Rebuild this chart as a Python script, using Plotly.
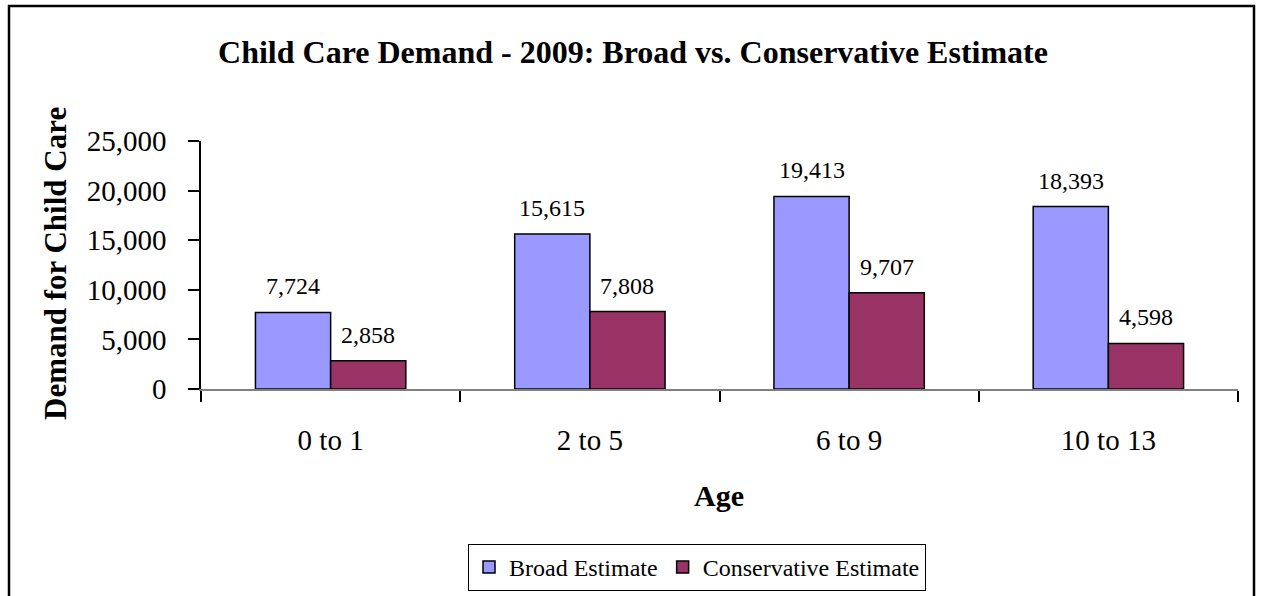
import plotly.graph_objects as go

# Child care demand by age group, 2009
ages = ["0 to 1", "2 to 5", "6 to 9", "10 to 13"]
broad = [7724, 15615, 19413, 18393]
conservative = [2858, 7808, 9707, 4598]
series_names = ["Broad Estimate", "Conservative Estimate"]
y_ticks = [0, 5000, 10000, 15000, 20000, 25000]

W, H = 1261, 596
L, R, T, B = 201, 23, 141, 207
pw, ph = W - L - R, H - T - B

FONT = "Liberation Serif"
BROAD_C = "#9999FF"
CONS_C = "#993366"

fig = go.Figure()
fig.add_trace(go.Bar(x=ages, y=broad, name=series_names[0],
                     marker=dict(color=BROAD_C, line=dict(color="black", width=1.5))))
fig.add_trace(go.Bar(x=ages, y=conservative, name=series_names[1],
                     marker=dict(color=CONS_C, line=dict(color="black", width=1.5))))

# value labels above each bar
bar_px = pw / len(ages) * (1 - 0.42) / 2
annotations = []
for vals, sh in ((broad, -bar_px / 2), (conservative, bar_px / 2)):
    for a, v in zip(ages, vals):
        annotations.append(dict(x=a, y=v, xref="x", yref="y", text=f"{v:,}",
                                showarrow=False, xshift=sh, yshift=11, yanchor="bottom",
                                font=dict(family=FONT, size=24, color="black")))

# axis titles
annotations.append(dict(x=(55 - L) / pw, y=(H - B - 264) / ph, xref="paper", yref="paper",
                        xanchor="center", yanchor="middle",
                        text="<b>Demand for Child Care</b>", textangle=-90, showarrow=False,
                        font=dict(family=FONT, size=31, color="black")))
annotations.append(dict(x=(719 - L) / pw, y=(H - B - 495) / ph, xref="paper", yref="paper",
                        xanchor="center", yanchor="middle",
                        text="<b>Age</b>", showarrow=False,
                        font=dict(family=FONT, size=30, color="black")))

fig.update_layout(
    width=W, height=H,
    margin=dict(l=L, r=R, t=T, b=B, autoexpand=False),
    paper_bgcolor="white", plot_bgcolor="white",
    barmode="group", bargap=0.42, bargroupgap=0,
    font=dict(family=FONT, size=24, color="black"),
    title=dict(text="<b>Child Care Demand - 2009: Broad vs. Conservative Estimate</b>",
               x=(633 - L) / pw, xref="paper", xanchor="center",
               y=1 - 52 / H, yref="container", yanchor="middle",
               font=dict(family=FONT, size=32, color="black")),
    xaxis=dict(showline=True, linecolor="#808080", linewidth=1.5,
               ticks="outside", tickson="boundaries", ticklen=11, tickcolor="black",
               tickwidth=1.5, showgrid=False, ticklabelstandoff=24,
               tickfont=dict(family=FONT, size=29)),
    yaxis=dict(range=[0, 25000], tickvals=y_ticks, tickformat=",",
               showline=True, linecolor="black", linewidth=1.5,
               ticks="outside", ticklen=11, tickcolor="black", tickwidth=1.5,
               showgrid=False, zeroline=False, ticklabelstandoff=16,
               tickfont=dict(family=FONT, size=29)),
    legend=dict(orientation="h", x=(697 - L) / pw, xanchor="center",
                y=(H - B - 544) / ph, yanchor="top",
                bordercolor="black", borderwidth=1, bgcolor="white",
                font=dict(family=FONT, size=24), itemwidth=30,
                traceorder="normal"),
    annotations=annotations,
    shapes=[dict(type="rect", xref="paper", yref="paper",
                 x0=(9 - L) / pw, x1=(1254 - L) / pw,
                 y0=(H - B - 620) / ph, y1=(H - B - 6) / ph,
                 line=dict(color="black", width=2.5), fillcolor="rgba(0,0,0,0)",
                 layer="below")],
)

fig.write_html("out.html")
